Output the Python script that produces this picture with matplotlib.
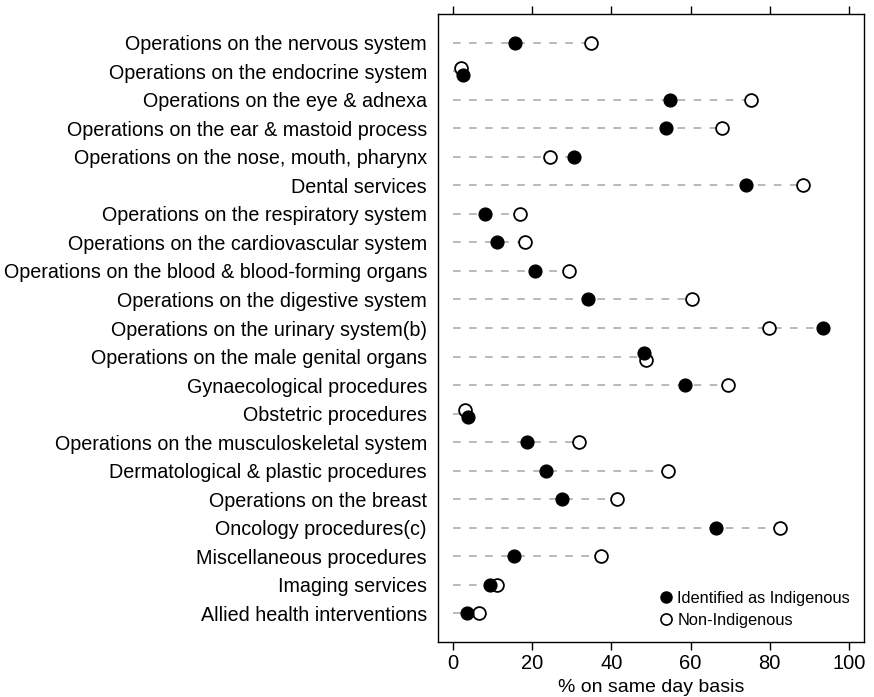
import matplotlib
matplotlib.use("Agg")
import matplotlib.pyplot as plt
from matplotlib.lines import Line2D

categories = [
    "Operations on the nervous system",
    "Operations on the endocrine system",
    "Operations on the eye & adnexa",
    "Operations on the ear & mastoid process",
    "Operations on the nose, mouth, pharynx",
    "Dental services",
    "Operations on the respiratory system",
    "Operations on the cardiovascular system",
    "Operations on the blood & blood-forming organs",
    "Operations on the digestive system",
    "Operations on the urinary system(b)",
    "Operations on the male genital organs",
    "Gynaecological procedures",
    "Obstetric procedures",
    "Operations on the musculoskeletal system",
    "Dermatological & plastic procedures",
    "Operations on the breast",
    "Oncology procedures(c)",
    "Miscellaneous procedures",
    "Imaging services",
    "Allied health interventions",
]
indigenous = [15.6, 2.4, 54.9, 53.8, 30.6, 74.1, 8.0, 11.0, 20.8, 34.2, 93.5,
              48.3, 58.5, 3.8, 18.6, 23.6, 27.6, 66.3, 15.4, 9.4, 3.4]
non_indigenous = [34.8, 1.95, 75.2, 68.0, 24.4, 88.5, 16.8, 18.1, 29.3, 60.4, 79.7,
                  48.7, 69.5, 3.0, 31.9, 54.2, 41.5, 82.7, 37.3, 11.2, 6.5]
xticks = [0, 20, 40, 60, 80, 100]

plt.rcParams["font.family"] = ["Liberation Sans", "DejaVu Sans"]

fig = plt.figure(figsize=(8.74, 6.97), dpi=100)
ax = fig.add_axes([438 / 874, 1 - 642 / 697, (864 - 438) / 874, (642 - 14) / 697])

n = len(categories)
for i in range(n):
    a, b = indigenous[i], non_indigenous[i]
    # dashed guide from 0 to the larger value
    ax.plot([0, max(a, b)], [i, i], color="#a6a6a6", lw=1.1,
            dashes=(5, 5.5), zorder=1)
    # nudge overlapping dots apart: the larger one sits a bit lower
    off_a = off_b = 0.0
    if abs(a - b) < 1.5:
        off_a, off_b = (0.12, -0.12) if a > b else (-0.12, 0.12)
    ax.plot(b, i + off_b, "o", ms=9.2, mfc="white", mec="black", mew=1.3, zorder=3)
    ax.plot(a, i + off_a, "o", ms=9.2, mfc="black", mec="black", mew=1.0, zorder=3)

ax.set_xlim(-3.8, 103.8)
ax.set_ylim(n, -1)
ax.set_yticks(range(n))
ax.set_yticklabels(categories, fontsize=14.2)
ax.tick_params(axis="y", length=0, pad=8)
ax.set_xticks(xticks)
ax.tick_params(axis="x", top=True, direction="out", length=5.8, width=1.0,
               labelsize=14.5, pad=3)
for s in ax.spines.values():
    s.set_linewidth(1.0)
ax.set_xlabel("% on same day basis", fontsize=14, labelpad=4)

handles = [
    Line2D([], [], ls="none", marker="o", ms=8, mfc="black", mec="black"),
    Line2D([], [], ls="none", marker="o", ms=8, mfc="white", mec="black", mew=1.2),
]
ax.legend(handles, ["Identified as Indigenous", "Non-Indigenous"], loc="lower left",
          bbox_to_anchor=(0.50, 0.012), frameon=False, fontsize=11.8,
          handletextpad=0.2, handlelength=1.0, labelspacing=0.45, borderaxespad=0.0)

fig.savefig("out.png", dpi=100)
